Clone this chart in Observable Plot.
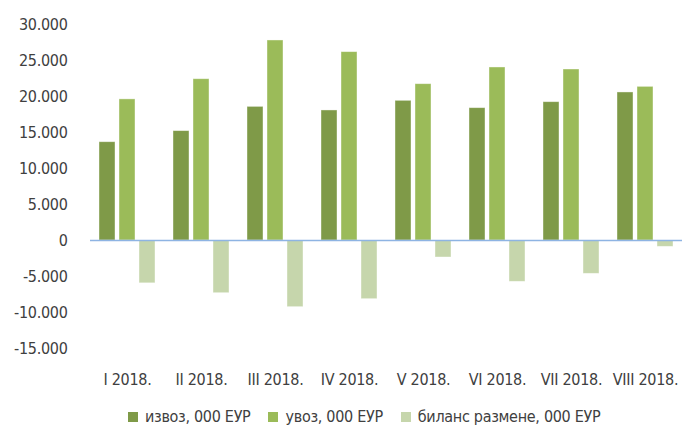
<!DOCTYPE html>
<html>
<head>
<meta charset="utf-8">
<script src="https://cdn.jsdelivr.net/npm/d3@7"></script>
<script src="https://cdn.jsdelivr.net/npm/@observablehq/plot@0.6"></script>
<style>
  html, body { margin: 0; padding: 0; background: #fff; }
  body { width: 683px; height: 432px; overflow: hidden;
         font-family: "DejaVu Sans Condensed", sans-serif;
         color: #404040; }
  #legend { display: flex; align-items: center; gap: 18px; padding-left: 128px; margin-top: 6px;
            font-size: 16px; line-height: 22px; letter-spacing: -0.3px; }
  #legend .item { display: flex; align-items: center; gap: 7px; }
  #legend .sw { width: 10px; height: 10px; display: inline-block; }
  svg text { letter-spacing: -0.3px; }
</style>
</head>
<body>
<div id="chart"></div>
<div id="legend"></div>
<script>
const months = ["I 2018.", "II 2018.", "III 2018.", "IV 2018.", "V 2018.", "VI 2018.", "VII 2018.", "VIII 2018."];
const izvoz  = [13650, 15190, 18560, 18060, 19400, 18380, 19210, 20560];
const uvoz   = [19600, 22400, 27780, 26160, 21710, 24030, 23750, 21340];
const bilans = [-5950, -7320, -9260, -8150, -2360, -5740, -4630, -880];
const series = ["извоз, 000 ЕУР", "увоз, 000 ЕУР", "биланс размене, 000 ЕУР"];
const colors = ["#7f9a48", "#9bbb59", "#c6d6ac"];
const yTicks = [-15000, -10000, -5000, 0, 5000, 10000, 15000, 20000, 25000, 30000];

const values = [izvoz, uvoz, bilans];
const data = [];
months.forEach((m, i) => {
  series.forEach((s, j) => data.push({month: m, series: s, value: values[j][i]}));
});

const fmt = d => d === 0 ? "0" : d3.format(",")(d).replace(/,/g, ".").replace("−", "-");
const font = `"DejaVu Sans Condensed", sans-serif`;

const chart = Plot.plot({
  width: 683,
  height: 400,
  marginLeft: 90,
  marginRight: 1,
  marginTop: 24,
  marginBottom: 52,
  style: {fontFamily: font, fontSize: "16px", color: "#404040", background: "white"},
  fx: {domain: months, paddingInner: 0, paddingOuter: 0, label: null},
  x: {domain: series, paddingInner: 0.2, paddingOuter: 0.39, axis: null},
  y: {domain: [-15000, 30000], label: null},
  color: {domain: series, range: colors},
  marks: [
    Plot.barY(data, {fx: "month", x: "series", y: "value", fill: "series", stroke: "#ffffff", strokeOpacity: 0.5, strokeWidth: 0.8}),
    Plot.ruleY([0], {stroke: "#8eb4e3", strokeWidth: 1.5}),
    Plot.axisY({ticks: yTicks, tickSize: 0, tickPadding: 23, tickFormat: fmt, fontSize: 16, label: null}),
    Plot.axisFx({anchor: "bottom", tickSize: 0, tickPadding: 25, fontSize: 16, label: null})
  ]
});
document.getElementById("chart").appendChild(chart);

const legend = document.getElementById("legend");
series.forEach((s, j) => {
  const item = document.createElement("div");
  item.className = "item";
  const sw = document.createElement("span");
  sw.className = "sw";
  sw.style.background = colors[j];
  const t = document.createElement("span");
  t.textContent = s;
  item.appendChild(sw);
  item.appendChild(t);
  legend.appendChild(item);
});
</script>
</body>
</html>
